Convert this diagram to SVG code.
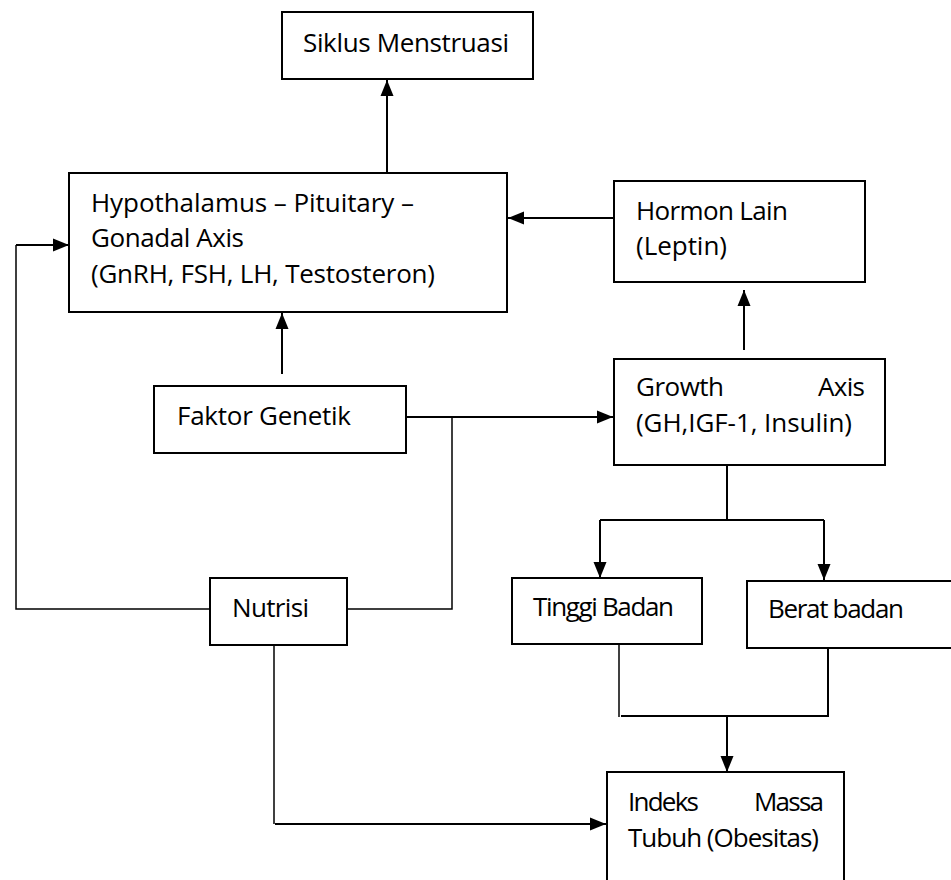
<svg xmlns="http://www.w3.org/2000/svg" width="951" height="880" viewBox="0 0 951 880">
<style>
.box{fill:#fff;stroke:#000;stroke-width:2}
.t{font-family:"Open Sans","Liberation Sans",sans-serif;font-size:26px;fill:#000}
.c{fill:none;stroke:#000;stroke-width:2}
.thin{fill:none;stroke:#000;stroke-width:1.5}
</style>
<defs>
<marker id="ah" markerUnits="userSpaceOnUse" markerWidth="16" markerHeight="14" refX="16" refY="7" orient="auto">
<path d="M0,0.5 L16,7 L0,13.5 z" fill="#000"/>
</marker>
</defs>
<rect width="951" height="880" fill="#fff"/>
<g id="connectors">
<line class="c" x1="387" y1="173" x2="387" y2="80" marker-end="url(#ah)"/>
<polyline class="thin" points="210,609 16,609 16,245"/>
<line class="c" x1="16" y1="245" x2="69" y2="245" marker-end="url(#ah)"/>
<line class="c" x1="282" y1="374" x2="282" y2="313" marker-end="url(#ah)"/>
<line class="c" x1="406" y1="417" x2="613" y2="417" marker-end="url(#ah)"/>
<polyline class="thin" points="347,609 452,609 452,417"/>
<line class="c" x1="614" y1="218" x2="508" y2="218" marker-end="url(#ah)"/>
<line class="c" x1="744" y1="350" x2="744" y2="290" marker-end="url(#ah)"/>
<line class="c" x1="727" y1="465" x2="727" y2="520"/>
<line class="c" x1="600" y1="520" x2="824" y2="520"/>
<line class="c" x1="600" y1="520" x2="600" y2="578" marker-end="url(#ah)"/>
<line class="c" x1="824" y1="520" x2="824" y2="580" marker-end="url(#ah)"/>
<line class="thin" x1="619" y1="642" x2="619" y2="717"/>
<polyline class="c" points="621,716 828,716 828,644"/>
<line class="c" x1="727" y1="716" x2="727" y2="772" marker-end="url(#ah)"/>
<polyline class="thin" points="274,645 274,824"/>
<line class="c" x1="275" y1="824" x2="606" y2="824" marker-end="url(#ah)"/>
</g>
<g id="siklus">
<rect class="box" x="282" y="12" width="251" height="67"/>
<text class="t" x="303" y="52" textLength="206">Siklus Menstruasi</text>
</g>
<g id="hpg">
<rect class="box" x="69" y="173" width="438" height="139"/>
<text class="t" x="91" y="212" textLength="323">Hypothalamus – Pituitary –</text>
<text class="t" x="91" y="247" textLength="153">Gonadal Axis</text>
<text class="t" x="91" y="283" textLength="344">(GnRH, FSH, LH, Testosteron)</text>
</g>
<g id="hormon">
<rect class="box" x="614" y="181" width="251" height="101"/>
<text class="t" x="636" y="220" textLength="152">Hormon Lain</text>
<text class="t" x="636" y="255" textLength="91">(Leptin)</text>
</g>
<g id="faktor">
<rect class="box" x="154" y="386" width="252" height="67"/>
<text class="t" x="177" y="425" textLength="174">Faktor Genetik</text>
</g>
<g id="growth">
<rect class="box" x="614" y="359" width="271" height="106"/>
<text class="t" x="636" y="396" textLength="88">Growth</text>
<text class="t" x="818" y="396" textLength="47">Axis</text>
<text class="t" x="636" y="432" textLength="216">(GH,IGF-1, Insulin)</text>
</g>
<g id="nutrisi">
<rect class="box" x="210" y="578" width="137" height="67"/>
<text class="t" x="232" y="617" textLength="77">Nutrisi</text>
</g>
<g id="tinggi">
<rect class="box" x="512" y="578" width="190" height="66"/>
<text class="t" x="533" y="616" textLength="141">Tinggi Badan</text>
</g>
<g id="berat">
<rect class="box" x="747" y="581" width="220" height="67"/>
<text class="t" x="768" y="618" textLength="136">Berat badan</text>
</g>
<g id="indeks">
<rect class="box" x="607" y="772" width="237" height="120"/>
<text class="t" x="628" y="811" textLength="71">Indeks</text>
<text class="t" x="754" y="811" textLength="70">Massa</text>
<text class="t" x="628" y="847" textLength="191">Tubuh (Obesitas)</text>
</g>
</svg>
